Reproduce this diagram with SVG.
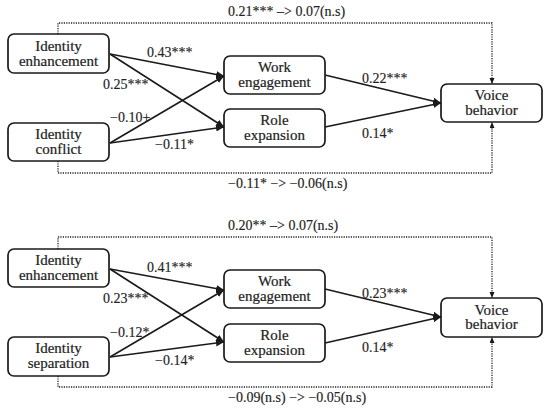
<svg xmlns="http://www.w3.org/2000/svg" width="550" height="414" viewBox="0 0 550 414">
<defs>
<marker id="ah" markerUnits="userSpaceOnUse" markerWidth="9" markerHeight="8" refX="8" refY="3.5" orient="auto">
<path d="M0,0 L8,3.5 L0,7 z" fill="#1a1a1a"/>
</marker>
<marker id="ahs" markerUnits="userSpaceOnUse" markerWidth="7" markerHeight="6" refX="6" refY="2.5" orient="auto">
<path d="M0,0 L6,2.5 L0,5 z" fill="#1a1a1a"/>
</marker>
<style>
.box{fill:#fff;stroke:#1a1a1a;stroke-width:1.7}
.nt{font-family:"Liberation Serif","Times New Roman",serif;font-size:15px;fill:#222;text-anchor:middle;stroke:#222;stroke-width:0.2}
.lb{font-family:"Liberation Serif","Times New Roman",serif;font-size:14px;fill:#222;stroke:#222;stroke-width:0.15}
.ar{fill:none;stroke:#1a1a1a;stroke-width:1.6;marker-end:url(#ah)}
.dt{fill:none;stroke:#222;stroke-width:1.3;stroke-dasharray:1.2 1.2;marker-end:url(#ahs)}
</style>
</defs>
<rect width="550" height="414" fill="#fff"/>
<g id="connectors">
<path class="dt" d="M58,34 V23 H492 V84"/>
<path class="dt" d="M58,161 V173 H492 V122"/>
<line class="ar" x1="110" y1="54" x2="224" y2="76"/>
<line class="ar" x1="110" y1="54" x2="224" y2="127"/>
<line class="ar" x1="110" y1="143" x2="224" y2="76"/>
<line class="ar" x1="110" y1="143" x2="224" y2="127"/>
<line class="ar" x1="325" y1="75" x2="441" y2="103"/>
<line class="ar" x1="325" y1="127" x2="441" y2="103"/>
<path class="dt" d="M58,249 V237 H492 V298"/>
<path class="dt" d="M58,376 V387 H492 V337"/>
<line class="ar" x1="110" y1="269" x2="224" y2="290"/>
<line class="ar" x1="110" y1="269" x2="224" y2="342"/>
<line class="ar" x1="110" y1="357" x2="224" y2="290"/>
<line class="ar" x1="110" y1="357" x2="224" y2="342"/>
<line class="ar" x1="325" y1="289" x2="441" y2="317"/>
<line class="ar" x1="325" y1="343" x2="441" y2="317"/>
</g>
<g id="labels">
<text class="lb" x="228" y="16">0.21*** –&gt; 0.07(n.s)</text>
<text class="lb" x="228" y="188">−0.11* −&gt; −0.06(n.s)</text>
<text class="lb" x="147" y="57">0.43***</text>
<text class="lb" x="103" y="89">0.25***</text>
<text class="lb" x="110" y="122">−0.10+</text>
<text class="lb" x="155" y="149">−0.11*</text>
<text class="lb" x="362" y="83">0.22***</text>
<text class="lb" x="362" y="138">0.14*</text>
<text class="lb" x="228" y="230">0.20** –&gt; 0.07(n.s)</text>
<text class="lb" x="228" y="402">−0.09(n.s) −&gt; −0.05(n.s)</text>
<text class="lb" x="147" y="272">0.41***</text>
<text class="lb" x="103" y="303">0.23***</text>
<text class="lb" x="110" y="337">−0.12*</text>
<text class="lb" x="155" y="365">−0.14*</text>
<text class="lb" x="362" y="298">0.23***</text>
<text class="lb" x="362" y="352">0.14*</text>
</g>
<g id="ie1"><rect class="box" x="8" y="34" width="101" height="39" rx="6"/><text class="nt" x="58.5" y="51">Identity</text><text class="nt" x="58.5" y="65.5">enhancement</text></g>
<g id="ic1"><rect class="box" x="8" y="123" width="101" height="38" rx="6"/><text class="nt" x="58.5" y="139">Identity</text><text class="nt" x="58.5" y="153.5">conflict</text></g>
<g id="we1"><rect class="box" x="224" y="56" width="101" height="38" rx="6"/><text class="nt" x="274.5" y="72">Work</text><text class="nt" x="274.5" y="86.5">engagement</text></g>
<g id="re1"><rect class="box" x="224" y="109" width="101" height="38" rx="6"/><text class="nt" x="274.5" y="125">Role</text><text class="nt" x="274.5" y="139.5">expansion</text></g>
<g id="vb1"><rect class="box" x="441" y="84" width="101" height="38" rx="6"/><text class="nt" x="491.5" y="100">Voice</text><text class="nt" x="491.5" y="114.5">behavior</text></g>
<g id="ie2"><rect class="box" x="8" y="249" width="101" height="38" rx="6"/><text class="nt" x="58.5" y="265">Identity</text><text class="nt" x="58.5" y="279.5">enhancement</text></g>
<g id="is2"><rect class="box" x="8" y="337" width="101" height="39" rx="6"/><text class="nt" x="58.5" y="353">Identity</text><text class="nt" x="58.5" y="367.5">separation</text></g>
<g id="we2"><rect class="box" x="224" y="270" width="101" height="38" rx="6"/><text class="nt" x="274.5" y="286">Work</text><text class="nt" x="274.5" y="300.5">engagement</text></g>
<g id="re2"><rect class="box" x="224" y="324" width="101" height="38" rx="6"/><text class="nt" x="274.5" y="340">Role</text><text class="nt" x="274.5" y="354.5">expansion</text></g>
<g id="vb2"><rect class="box" x="441" y="298" width="101" height="39" rx="6"/><text class="nt" x="491.5" y="314.5">Voice</text><text class="nt" x="491.5" y="329">behavior</text></g>
</svg>
